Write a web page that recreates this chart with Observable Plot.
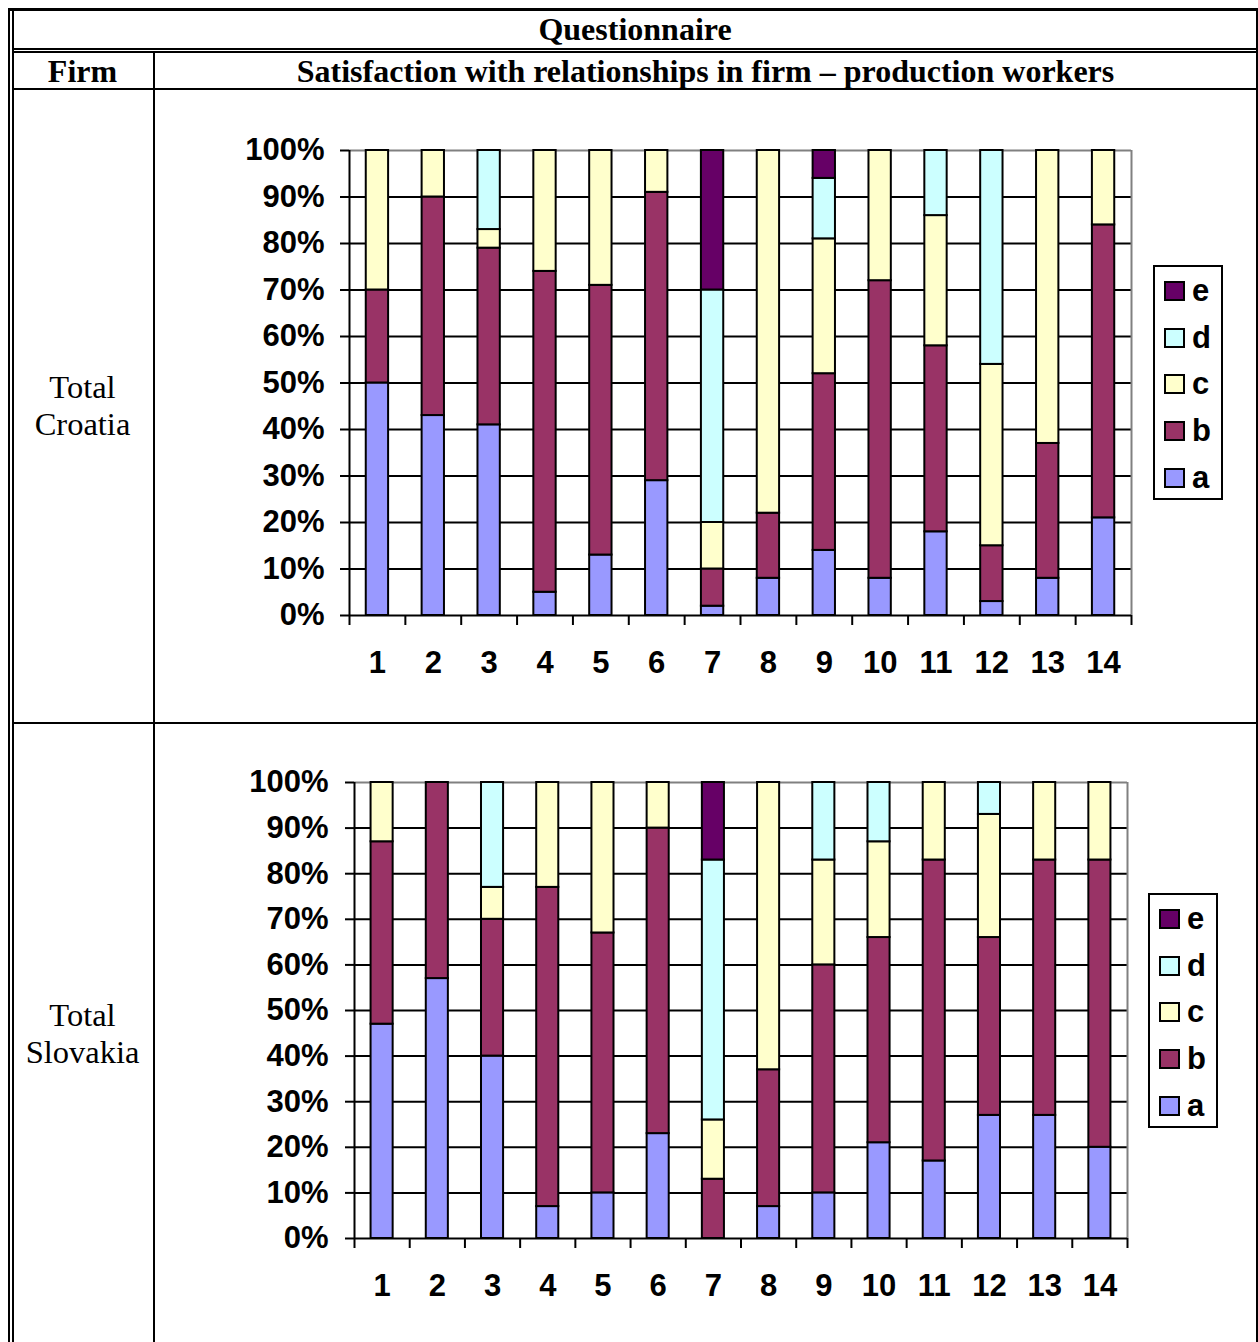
<!DOCTYPE html>
<html>
<head>
<meta charset="utf-8">
<script src="https://cdn.jsdelivr.net/npm/d3@7"></script>
<script src="https://cdn.jsdelivr.net/npm/@observablehq/plot@0.6"></script>
<style>
  html, body { margin: 0; padding: 0; background: #fff; }
  #page { position: relative; width: 1258px; height: 1342px; overflow: hidden; background: #fff; }
  .ln { position: absolute; background: #000; }
  .txt { position: absolute; color: #000; text-align: center; white-space: nowrap; }
  .serifb { font-family: "Liberation Serif", "Times New Roman", serif; font-weight: bold; font-size: 32px; }
  .serif { font-family: "Liberation Serif", "Times New Roman", serif; font-size: 32.5px; line-height: 37px; }
  .chart { position: absolute; }
  .legend { position: absolute; border: 2px solid #000; background: #fff; box-sizing: border-box;
            font-family: "Liberation Sans", Arial, sans-serif; font-weight: bold; font-size: 31px; }
  .legend .item { position: absolute; left: 9px; height: 30px; display: flex; align-items: center; }
  .legend .sw { width: 21px; height: 20px; border: 2px solid #000; box-sizing: border-box; margin-right: 7px; }
</style>
</head>
<body>
<div id="page">
  <!-- table frame -->
  <div class="ln" style="left:8px; top:8px; width:1250px; height:3px;"></div>
  <div class="ln" style="left:8px; top:8px; width:2px; height:1334px;"></div>
  <div class="ln" style="left:12px; top:11px; width:2px; height:1331px;"></div>
  <div class="ln" style="left:1256px; top:8px; width:2px; height:1334px;"></div>
  <div class="ln" style="left:12px; top:48px; width:1246px; height:2px;"></div>
  <div class="ln" style="left:12px; top:51px; width:1246px; height:2px;"></div>
  <div class="ln" style="left:12px; top:88px; width:1246px; height:2px;"></div>
  <div class="ln" style="left:153px; top:51px; width:2px; height:1291px;"></div>
  <div class="ln" style="left:12px; top:722px; width:1246px; height:2px;"></div>

  <div class="txt serifb" style="left:12px; width:1246px; top:11px; height:37px; line-height:37px;">Questionnaire</div>
  <div class="txt serifb" style="left:12px; width:141px; top:53px; height:35px; line-height:37px;">Firm</div>
  <div class="txt serifb" style="left:155px; width:1101px; top:53px; height:35px; line-height:37px;">Satisfaction with relationships in firm – production workers</div>
  <div class="txt serif" style="left:12px; width:141px; top:369px;">Total<br>Croatia</div>
  <div class="txt serif" style="left:12px; width:141px; top:997px;">Total<br>Slovakia</div>

  <div id="chart1" class="chart" style="left:156px; top:91px;"></div>
  <div id="chart2" class="chart" style="left:156px; top:725px;"></div>
  <div id="legend1" class="legend" style="left:1153px; top:265px; width:70px; height:235px;"></div>
  <div id="legend2" class="legend" style="left:1148px; top:893px; width:70px; height:235px;"></div>
</div>
<script>
// ---- data ----
const firms = [1, 2, 3, 4, 5, 6, 7, 8, 9, 10, 11, 12, 13, 14];
const answers = ["a", "b", "c", "d", "e"];
const answerColors = ["#9999FF", "#993366", "#FFFFCC", "#CCFFFF", "#660066"];
const yTicks = [0, 10, 20, 30, 40, 50, 60, 70, 80, 90, 100];

const croatiaA = [50, 43, 41, 5, 13, 29, 2, 8, 14, 8, 18, 3, 8, 21];
const croatiaB = [20, 47, 38, 69, 58, 62, 8, 14, 38, 64, 40, 12, 29, 63];
const croatiaC = [30, 10, 4, 26, 29, 9, 10, 78, 29, 28, 28, 39, 63, 16];
const croatiaD = [0, 0, 17, 0, 0, 0, 50, 0, 13, 0, 14, 46, 0, 0];
const croatiaE = [0, 0, 0, 0, 0, 0, 30, 0, 6, 0, 0, 0, 0, 0];

const slovakiaA = [47, 57, 40, 7, 10, 23, 0, 7, 10, 21, 17, 27, 27, 20];
const slovakiaB = [40, 43, 30, 70, 57, 67, 13, 30, 50, 45, 66, 39, 56, 63];
const slovakiaC = [13, 0, 7, 23, 33, 10, 13, 63, 23, 21, 17, 27, 17, 17];
const slovakiaD = [0, 0, 23, 0, 0, 0, 57, 0, 17, 13, 0, 7, 0, 0];
const slovakiaE = [0, 0, 0, 0, 0, 0, 17, 0, 0, 0, 0, 0, 0, 0];

function rows(series) {
  const out = [];
  firms.forEach((f, i) => {
    answers.forEach((a, j) => {
      const v = series[j][i];
      if (v > 0) out.push({firm: f, answer: a, value: v});
    });
  });
  return out;
}

function chart(data, opts) {
  const bounds = firms.map(f => f - 0.5).concat([firms[firms.length - 1] + 0.5]);
  return Plot.plot({
    width: opts.width,
    height: opts.height,
    marginLeft: opts.ml,
    marginRight: opts.mr,
    marginTop: opts.mt,
    marginBottom: opts.mb,
    style: "font-family: 'Liberation Sans', Arial, sans-serif; font-weight: bold; font-size: 31px; color: #000; background: transparent; overflow: visible;",
    x: {domain: [bounds[0], bounds[bounds.length - 1]], axis: null},
    y: {domain: [0, 100], axis: null},
    color: {domain: answers, range: answerColors},
    marks: [
      Plot.gridY(yTicks.filter(v => v > 0 && v < 100), {stroke: "#000", strokeOpacity: 1, strokeWidth: 2}),
      Plot.ruleY([100], {stroke: "#808080", strokeWidth: 2}),
      Plot.ruleX([bounds[bounds.length - 1]], {stroke: "#808080", strokeWidth: 2}),
      Plot.rectY(data, Plot.stackY({
        x1: d => d.firm - 0.2,
        x2: d => d.firm + 0.2,
        y: "value",
        fill: "answer",
        stroke: "#000",
        strokeWidth: 2
      })),
      Plot.ruleX([bounds[0]], {stroke: "#000", strokeWidth: 2}),
      Plot.ruleY([0], {stroke: "#000", strokeWidth: 2}),
      Plot.axisY(yTicks, {
        label: null,
        tickSize: 9, tickPadding: opts.ytp, strokeWidth: 2,
        tickFormat: d => d + "%", fontSize: 31, fontWeight: "bold", fill: "#000"
      }),
      Plot.axisX(bounds, {label: null, tickSize: 10, strokeWidth: 2, tickFormat: () => ""}),
      Plot.axisX(firms, {label: null, tickSize: 0, tickPadding: opts.xtp, fontSize: 31, fontWeight: "bold", fill: "#000"})
    ]
  });
}

function legend(el) {
  const order = answers.slice().reverse();
  order.forEach((a, i) => {
    const item = document.createElement("div");
    item.className = "item";
    item.style.top = (9 + i * 46.7) + "px";
    const sw = document.createElement("div");
    sw.className = "sw";
    sw.style.background = answerColors[answers.indexOf(a)];
    const lab = document.createElement("span");
    lab.textContent = a;
    item.appendChild(sw);
    item.appendChild(lab);
    el.appendChild(item);
  });
}

const croatia = rows([croatiaA, croatiaB, croatiaC, croatiaD, croatiaE]);
const slovakia = rows([slovakiaA, slovakiaB, slovakiaC, slovakiaD, slovakiaE]);

document.getElementById("chart1").appendChild(
  chart(croatia, {width: 1100, height: 630, ml: 193, mr: 125, mt: 59, mb: 106, ytp: 16, xtp: 35})
);
document.getElementById("chart2").appendChild(
  chart(slovakia, {width: 1100, height: 617, ml: 198, mr: 129, mt: 57, mb: 104, ytp: 17, xtp: 35})
);
legend(document.getElementById("legend1"));
legend(document.getElementById("legend2"));
</script>
</body>
</html>
